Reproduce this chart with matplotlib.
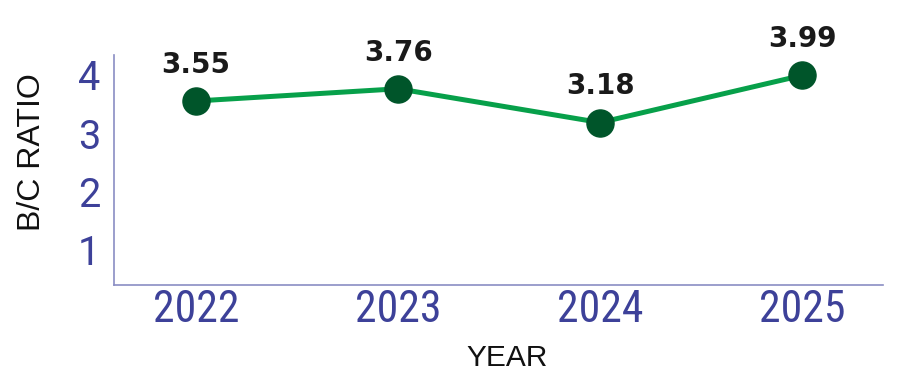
import matplotlib
matplotlib.use('Agg')
from matplotlib import pyplot as plt

years = ['2022', '2023', '2024', '2025']
bc_ratio = [3.55, 3.76, 3.18, 3.99]
y_ticks = [1, 2, 3, 4]

purple = '#3d4199'
spine_c = '#8a8ec4'
cond = ['Roboto Condensed', 'DejaVu Sans']

fig = plt.figure(figsize=(9, 3.82), dpi=100)
# axes box in pixels: x 114..883, y 55..285 (from top)
ax = fig.add_axes([114/900, 1-285/382, (883-114)/900, (285-55)/382])

xs = list(range(len(years)))
ax.plot(xs, bc_ratio, color='#07a04a', lw=3.6, zorder=2)
ax.plot(xs, bc_ratio, 'o', ms=19.5, color='#00552a', zorder=3)

for x, v in zip(xs, bc_ratio):
    ax.annotate('%.2f' % v, (x, v), xytext=(0, 26), textcoords='offset points',
                ha='center', va='center', fontsize=20, fontweight='bold',
                family='DejaVu Sans', color='#1a1a1a')

ax.set_xlim(-0.406, 3.4)
ax.set_ylim(0.39, 4.34)
ax.set_xticks(xs)
ax.set_xticklabels(years)
ax.set_yticks(y_ticks)

for lab in ax.get_xticklabels():
    lab.set_family(cond)
    lab.set_fontsize(31.5)
    lab.set_color(purple)
for lab in ax.get_yticklabels():
    lab.set_family(['Roboto', 'DejaVu Sans'])
    lab.set_fontsize(28.5)
    lab.set_color(purple)

ax.tick_params(axis='both', length=0)
ax.tick_params(axis='x', pad=3)
ax.tick_params(axis='y', pad=10)

for s in ['top', 'right']:
    ax.spines[s].set_visible(False)
for s in ['left', 'bottom']:
    ax.spines[s].set_color(spine_c)
    ax.spines[s].set_linewidth(1.2)

fig.text(32/900, 1-152/382, 'B/C RATIO', rotation=90, ha='center', va='center',
         fontsize=23, family=['Liberation Sans', 'DejaVu Sans'], color='#111111')
fig.text(507/900, 1-358/382, 'YEAR', ha='center', va='center',
         fontsize=21.5, family=['Liberation Sans', 'DejaVu Sans'], color='#111111')

fig.savefig('out.png', dpi=100)
